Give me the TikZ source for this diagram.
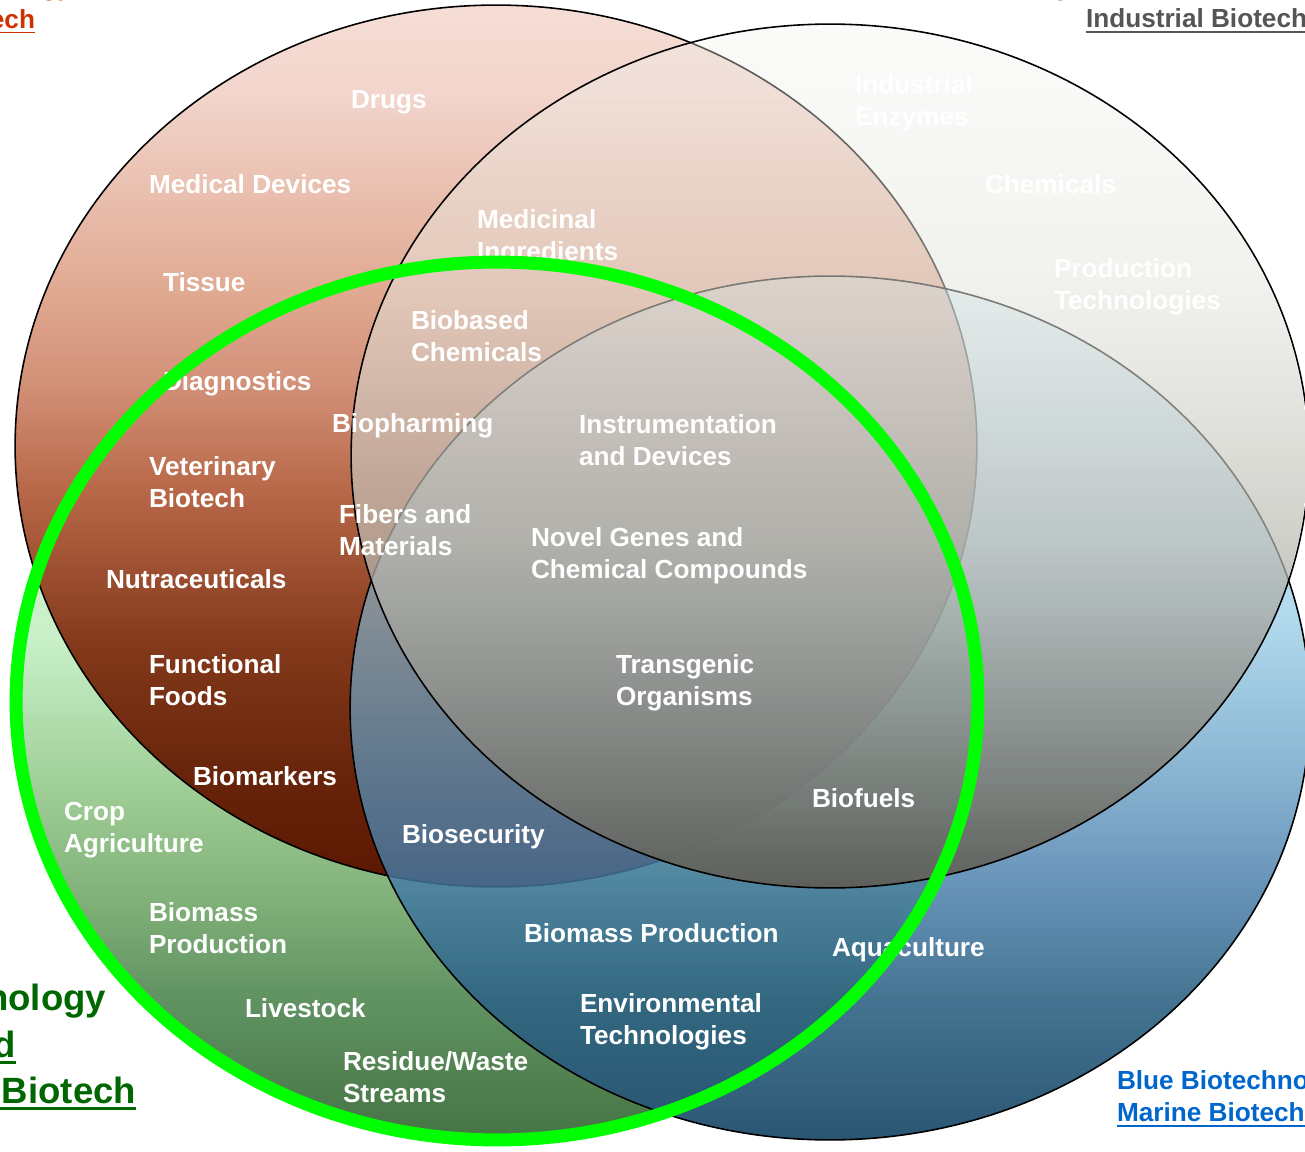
\documentclass[tikz,border=0pt]{standalone}
\usepackage{fontspec}
\setmainfont{Liberation Sans}
\usetikzlibrary{fadings}

% red (bottom -> top)
\definecolor{rA}{HTML}{5A1600}\definecolor{rB}{HTML}{6A260C}\definecolor{rC}{HTML}{82381A}
\definecolor{rD}{HTML}{B86848}\definecolor{rE}{HTML}{D29078}\definecolor{rF}{HTML}{E0A890}
\definecolor{rG}{HTML}{F2D5CC}\definecolor{rH}{HTML}{F5DDD5}
% green
\definecolor{gA}{HTML}{467444}\definecolor{gB}{HTML}{609262}\definecolor{gC}{HTML}{80B078}
\definecolor{gD}{HTML}{9CCC94}\definecolor{gE}{HTML}{C8F0C8}\definecolor{gF}{HTML}{E8FCE8}
% blue
\definecolor{bA}{HTML}{2A5572}\definecolor{bB}{HTML}{2E6384}\definecolor{bC}{HTML}{447AA8}
\definecolor{bD}{HTML}{7DBFE0}\definecolor{bE}{HTML}{B8E2F6}
% gray
\definecolor{kA}{HTML}{5E5E57}\definecolor{kB}{HTML}{8E8E87}\definecolor{kC}{HTML}{BCBCB4}
\definecolor{kD}{HTML}{E4E4DD}\definecolor{kE}{HTML}{F2F2EE}
% labels
\definecolor{ringgreen}{HTML}{00FF00}
\definecolor{redlink}{HTML}{CC3300}
\definecolor{graylink}{HTML}{555555}
\definecolor{bluelink}{HTML}{0066CC}
\definecolor{greenlink}{HTML}{006600}

\pgfdeclareverticalshading{redsh}{100bp}{color(0bp)=(rA); color(25bp)=(rA); color(32bp)=(rB); color(38.5bp)=(rC); color(47.5bp)=(rD); color(53.5bp)=(rE); color(58.5bp)=(rF); color(70bp)=(rG); color(75bp)=(rH); color(100bp)=(rH)}
\pgfdeclareverticalshading{greensh}{100bp}{color(0bp)=(gA); color(25bp)=(gA); color(33bp)=(gB); color(38.5bp)=(gC); color(44.5bp)=(gD); color(53.5bp)=(gE); color(75bp)=(gF); color(100bp)=(gF)}
\pgfdeclareverticalshading{bluesh}{100bp}{color(0bp)=(bA); color(25bp)=(bA); color(33bp)=(bB); color(40bp)=(bC); color(55bp)=(bD); color(75bp)=(bE); color(100bp)=(bE)}
\pgfdeclareverticalshading{graysh}{100bp}{color(0bp)=(kA); color(25bp)=(kA); color(35bp)=(kB); color(45bp)=(kC); color(60bp)=(kD); color(75bp)=(kE); color(100bp)=(kE)}

\tikzfading[name=bluefade, top color=transparent!65, middle color=transparent!20, bottom color=transparent!0]
\tikzfading[name=grayfade, top color=transparent!65, bottom color=transparent!5]

\newcommand\lblfont{\bfseries\fontsize{14.9pt}{18.14pt}\selectfont}
\newcommand\bigfont{\bfseries\fontsize{20.8pt}{26.6pt}\selectfont}

\begin{document}
\begin{tikzpicture}[x=0.02cm, y=-0.02cm,
  lbl/.style={text=white, font=\lblfont, inner sep=0pt, outer sep=0pt, align=left, anchor=north west},
  corner/.style={font=\lblfont, inner sep=0pt, outer sep=0pt},
  bigcorner/.style={font=\bigfont, inner sep=0pt, outer sep=0pt, text=greenlink},
  edge/.style={draw=black, line width=0.9pt}]
\useasboundingbox (0,0) rectangle (1305,1152);
\clip (0,0) rectangle (1305,1152);

% circles
\path[shading=greensh] (497,701) ellipse [x radius=9.62cm, y radius=8.78cm];
\path[shading=redsh] (496,446) ellipse [x radius=9.62cm, y radius=8.82cm];
\draw[edge] (496,446) ellipse [x radius=9.62cm, y radius=8.82cm];
\path[shading=bluesh, path fading=bluefade] (830,708) ellipse [x radius=9.6cm, y radius=8.64cm];
\draw[edge] (830,708) ellipse [x radius=9.6cm, y radius=8.64cm];
\path[shading=graysh, path fading=grayfade] (830,456) ellipse [x radius=9.58cm, y radius=8.64cm];
\draw[edge] (830,456) ellipse [x radius=9.58cm, y radius=8.64cm];

% labels
\node[lbl] (drugs) at (351,86) {\strut Drugs};
\node[lbl] (meddev) at (149,171) {\strut Medical Devices};
\node[lbl] (medingr) at (477,206) {\strut Medicinal\\Ingredients};
\node[lbl] (tissue) at (163,269) {\strut Tissue};
\node[lbl] (biobased) at (411,307) {\strut Biobased\\Chemicals};
\node[lbl] (diag) at (163,368) {\strut Diagnostics};
\node[lbl] (biopharm) at (332,410) {\strut Biopharming};
\node[lbl] (instr) at (579,411) {\strut Instrumentation\\and Devices};
\node[lbl] (vet) at (149,453) {\strut Veterinary\\Biotech};
\node[lbl] (fibers) at (339,501) {\strut Fibers and\\Materials};
\node[lbl] (novel) at (531,524) {\strut Novel Genes and\\Chemical Compounds};
\node[lbl] (nutra) at (106,566) {\strut Nutraceuticals};
\node[lbl] (func) at (149,651) {\strut Functional\\Foods};
\node[lbl] (transg) at (616,651) {\strut Transgenic\\Organisms};
\node[lbl] (biomark) at (193,763) {\strut Biomarkers};
\node[lbl] (biofuels) at (812,785) {\strut Biofuels};
\node[lbl] (crop) at (64,798) {\strut Crop\\Agriculture};
\node[lbl] (biosec) at (402,821) {\strut Biosecurity};
\node[lbl] (biomassA) at (149,899) {\strut Biomass\\Production};
\node[lbl] (biomassB) at (524,920) {\strut Biomass Production};
\node[lbl] (aqua) at (832,934) {\strut Aquaculture};
\node[lbl] (livestock) at (245,995) {\strut Livestock};
\node[lbl] (env) at (580,990) {\strut Environmental\\Technologies};
\node[lbl] (residue) at (343,1048) {\strut Residue/Waste\\Streams};
\node[lbl] (indenz) at (855,71) {\strut Industrial\\Enzymes};
\node[lbl] (chem) at (985,171) {\strut Chemicals};
\node[lbl] (prodtech) at (1054,255) {\strut Production\\Technologies};

% green ring
\draw[ringgreen, line width=7.4pt] (497,701) ellipse [x radius=9.62cm, y radius=8.78cm];

% corner captions
\node[corner, text=redlink, anchor=base east] (redA) at (72,-4) {gy};
\node[corner, text=redlink, anchor=base east] (redB) at (35,29) {ech};
\draw[redlink, line width=1.1pt] ([yshift=-2pt]redB.base west) -- ([yshift=-2pt]redB.base east);

\node[corner, text=graylink, anchor=base west] (grayA) at (1057,-4) {y};
\node[corner, text=graylink, anchor=base west] (grayB) at (1086,28) {Industrial Biotech};
\draw[graylink, line width=1.1pt] ([yshift=-2.3pt]grayB.base west) -- ([yshift=-2.3pt]grayB.base east);

\node[corner, text=bluelink, anchor=base west] (blueA) at (1117,1089) {Blue Biotechno};
\node[corner, text=bluelink, anchor=base west] (blueB) at (1117,1121) {Marine Biotech};
\draw[bluelink, line width=1.1pt] ([yshift=-2.6pt]blueB.base west) -- ([yshift=-2.6pt]blueB.base east);

\node[bigcorner, anchor=base east] (greenA) at (106,1010) {nology};
\node[bigcorner, anchor=base east] (greenB) at (16,1057) {d};
\node[bigcorner, anchor=base east] (greenC) at (136,1103) {Biotech};
\draw[greenlink, line width=1.4pt] ([yshift=-3.2pt]greenB.base west) -- ([yshift=-3.2pt]greenB.base east);
\draw[greenlink, line width=1.4pt] ([xshift=-10pt,yshift=-3.2pt]greenC.base west) -- ([yshift=-3.2pt]greenC.base east);
\end{tikzpicture}
\end{document}
